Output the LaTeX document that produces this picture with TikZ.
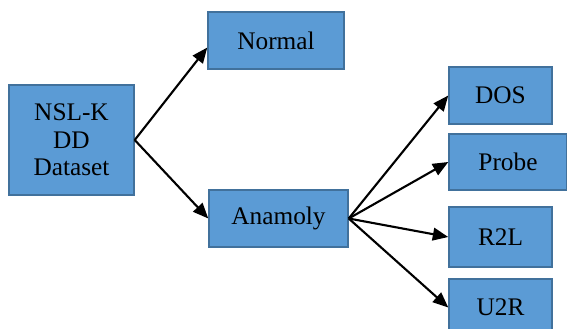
\documentclass[tikz,border=0pt]{standalone}
\usepackage{fontspec}
\setmainfont{Liberation Serif}
\usetikzlibrary{arrows.meta}

\definecolor{boxfill}{HTML}{5B9BD5}
\definecolor{boxline}{HTML}{41719C}

\begin{document}
\begin{tikzpicture}[x=0.025cm,y=-0.025cm,
    box/.style={draw=boxline,line width=1pt,fill=boxfill,inner sep=0pt,align=center,
      font=\fontsize{18}{19.5}\selectfont},
    link/.style={line width=1.5pt,-{Triangle[length=11pt,width=9pt]}}]
    \useasboundingbox (0,0) rectangle (567,329);
    % left box and the two classes
    \node[box,minimum width=3.125cm,minimum height=2.75cm] (data) at (71.5,140) {NSL-K\\DD\\Dataset};
    \node[box,minimum width=3.4cm,minimum height=1.425cm] (normal) at (276,40.5) {Normal};
    \node[box,minimum width=3.475cm,minimum height=1.425cm] (anamoly) at (278.5,218.5) {Anamoly};
    % attack types
    \node[box,minimum width=2.575cm,minimum height=1.425cm] (dos) at (500.5,95.5) {DOS};
    \node[box,minimum width=2.95cm,minimum height=1.4cm] (probe) at (508,162) {Probe};
    \node[box,minimum width=2.575cm,minimum height=1.5cm] (rtl) at (500.5,237) {R2L};
    \node[box,minimum width=2.575cm,minimum height=1.425cm] (utr) at (500.5,307.5) {U2R};
    % arrows
    \draw[link] (data.east) -- ([yshift=-5pt]normal.west);
    \draw[link] (data.east) -- (anamoly.west);
    \foreach \t in {dos,probe,rtl,utr}
      \draw[link] (anamoly.east) -- (\t.west);
\end{tikzpicture}
\end{document}
